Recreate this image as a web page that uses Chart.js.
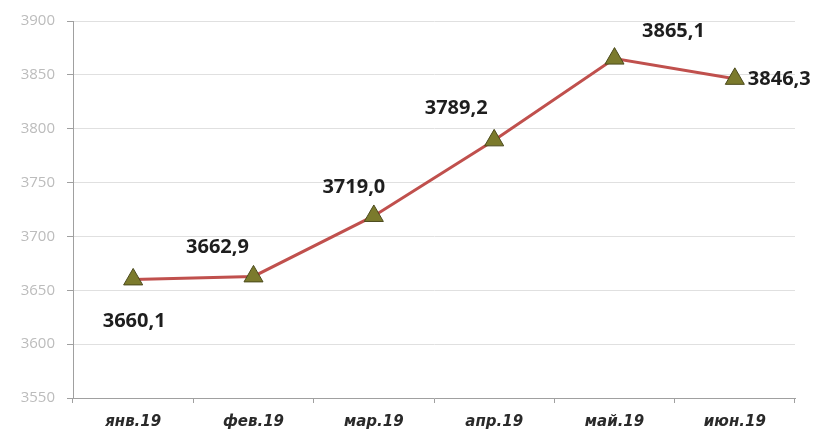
<!DOCTYPE html>
<html>
<head>
<meta charset="utf-8">
<script src="https://cdn.jsdelivr.net/npm/chart.js@4/dist/chart.umd.min.js"></script>
<style>
  html, body { margin: 0; padding: 0; background: #fff; }
  #wrap { width: 816px; height: 434px; }
</style>
</head>
<body>
<div id="wrap"><canvas id="chart" width="816" height="434"></canvas></div>
<script>
const months = ['янв.19', 'фев.19', 'мар.19', 'апр.19', 'май.19', 'июн.19'];
const values = [3660.1, 3662.9, 3719.0, 3789.2, 3865.1, 3846.3];
const yTicks = [3550, 3600, 3650, 3700, 3750, 3800, 3850, 3900];

// where each value label sits relative to its marker (dx, dy, align)
const labelPos = [
    [1, 42, 'center'],
    [-36, -29, 'center'],
    [-20, -29, 'center'],
    [-38, -32, 'center'],
    [59, -27, 'center'],
    [13, 0, 'left']
];

const valueLabels = {
    id: 'valueLabels',
    afterDatasetsDraw(chart) {
        const ctx = chart.ctx;
        const meta = chart.getDatasetMeta(0);
        ctx.save();
        ctx.font = 'bold 20px "Open Sans", "DejaVu Sans", sans-serif';
        ctx.fillStyle = '#1e1e1e';
        ctx.textBaseline = 'middle';
        meta.data.forEach((pt, i) => {
            const p = labelPos[i];
            ctx.textAlign = p[2];
            ctx.fillText(values[i].toFixed(1).replace('.', ','), pt.x + p[0], pt.y + p[1]);
        });
        ctx.restore();
    }
};

new Chart(document.getElementById('chart').getContext('2d'), {
    type: 'line',
    data: {
        labels: months,
        datasets: [{
            data: values,
            borderColor: '#c0504d',
            borderWidth: 3,
            tension: 0,
            pointStyle: 'triangle',
            pointRadius: 11,
            pointHoverRadius: 11,
            pointBackgroundColor: '#7b7a2c',
            pointBorderColor: '#4b4a1c',
            pointBorderWidth: 1
        }]
    },
    options: {
        responsive: false,
        animation: false,
        layout: { padding: { left: 0, top: 20, right: 21, bottom: 0 } },
        plugins: {
            legend: { display: false },
            tooltip: { enabled: false }
        },
        scales: {
            x: {
                offset: true,
                afterFit: (s) => { s.height = 36; },
                border: { color: '#a0a0a0', width: 1 },
                grid: { offset: true, drawOnChartArea: false, tickLength: 5, color: '#a0a0a0' },
                ticks: {
                    color: '#2a2a2a',
                    padding: 10,
                    font: { family: '"DejaVu Sans", sans-serif', size: 15, style: 'italic', weight: 'bold' }
                }
            },
            y: {
                min: 3550,
                max: 3900,
                afterFit: (s) => { s.width = 73; },
                afterBuildTicks: (s) => { s.ticks = yTicks.map(v => ({ value: v })); },
                border: { color: '#a0a0a0', width: 1 },
                grid: { color: '#e0e0e0', lineWidth: 1, tickLength: 6, tickColor: '#a0a0a0' },
                ticks: {
                    color: '#bcbcbc',
                    padding: 12,
                    callback: (v) => String(v),
                    font: { family: '"Open Sans", "DejaVu Sans", sans-serif', size: 15 }
                }
            }
        }
    },
    plugins: [valueLabels]
});
</script>
</body>
</html>
